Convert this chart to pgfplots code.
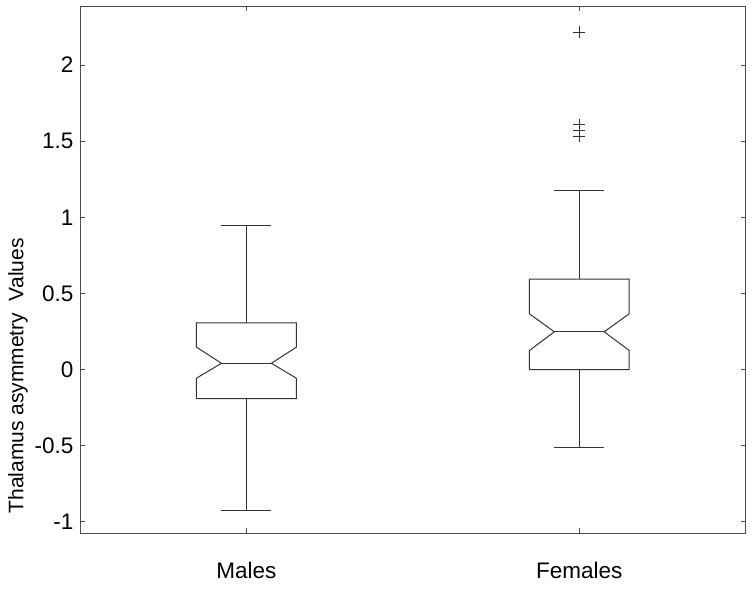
\documentclass[border=0pt]{standalone}
\usepackage{pgfplots}
\pgfplotsset{compat=1.18}
\usepackage{fontspec}
\setmainfont{Liberation Sans}
\definecolor{ln}{gray}{0.2}
\definecolor{ax}{gray}{0.3}
\begin{document}
\begin{tikzpicture}
\begin{axis}[
 scale only axis, width=665.7pt, height=527pt,
 xmin=0.5, xmax=2.5, ymin=-1.074, ymax=2.388,
 xtick={1,2}, xticklabels={Males,Females},
 ytick={-1,-0.5,0,0.5,1,1.5,2},
 yticklabels={-1,-0.5,0,0.5,1,1.5,2},
 tick align=inside, major tick length=5pt,
 tick style={ax, line width=0.9pt},
 axis line style={ax, line width=0.9pt},
 ticklabel style={font=\fontsize{22.5}{26}\selectfont},
 xticklabel style={yshift=-26pt},
 yticklabel style={xshift=-3pt},
 ylabel={Thalamus asymmetry\ \ Values},
 ylabel style={font=\fontsize{21}{25}\selectfont, at={(rel axis cs:0,0.298)}, anchor=center, yshift=62pt},
 bl/.style={ln, line width=1pt, mark=none},
]
% Males (x=1): Q1 -0.191, notch low -0.057, median 0.041, notch high 0.147, Q3 0.307, whiskers 0.947 / -0.923
\addplot[bl] coordinates {(0.85,-0.191) (0.85,-0.057) (0.925,0.041) (0.85,0.147) (0.85,0.307) (1.15,0.307) (1.15,0.147) (1.075,0.041) (1.15,-0.057) (1.15,-0.191) (0.85,-0.191)};
\addplot[bl] coordinates {(0.925,0.041) (1.075,0.041)};
\addplot[bl] coordinates {(1,0.307) (1,0.947)};
\addplot[bl] coordinates {(0.925,0.947) (1.075,0.947)};
\addplot[bl] coordinates {(1,-0.191) (1,-0.923)};
\addplot[bl] coordinates {(0.925,-0.923) (1.075,-0.923)};
% Females (x=2)
\addplot[bl] coordinates {(1.85,0.0) (1.85,0.125) (1.925,0.248) (1.85,0.366) (1.85,0.594) (2.15,0.594) (2.15,0.366) (2.075,0.248) (2.15,0.125) (2.15,0.0) (1.85,0.0)};
\addplot[bl] coordinates {(1.925,0.248) (2.075,0.248)};
\addplot[bl] coordinates {(2,0.594) (2,1.178)};
\addplot[bl] coordinates {(1.925,1.178) (2.075,1.178)};
\addplot[bl] coordinates {(2,0.0) (2,-0.511)};
\addplot[bl] coordinates {(1.925,-0.511) (2.075,-0.511)};
% outliers
\addplot[ln, only marks, mark=+, mark size=6pt, mark options={line width=1pt}] coordinates {(2,2.215) (2,1.607) (2,1.572) (2,1.533)};
\end{axis}
\pgfresetboundingbox
\path ([shift={(-80pt,-57pt)}]current axis.south west) rectangle ([shift={(10.3pt,6pt)}]current axis.north east);
\end{tikzpicture}
\end{document}
